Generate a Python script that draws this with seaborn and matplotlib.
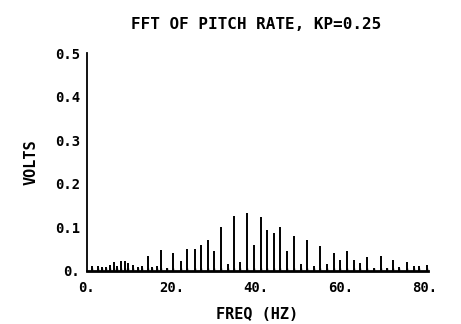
import matplotlib
matplotlib.use("Agg")
import matplotlib.pyplot as plt
import seaborn as sns
import pandas as pd

title = "FFT OF PITCH RATE, KP=0.25"
xlabel = "FREQ (HZ)"
ylabel = "VOLTS"

freq = [1.1, 2.5, 3.6, 4.6, 5.4, 6.4, 7.2, 8.0, 9.1, 9.7, 10.8, 12.0, 13.0, 14.4,
        15.5, 16.7, 17.6, 18.9, 20.4, 22.2, 23.7, 25.5, 26.9, 28.6, 30.2, 31.8,
        33.3, 34.9, 36.3, 37.8, 39.6, 41.3, 42.7, 44.3, 45.8, 47.5, 49.1, 50.7,
        52.2, 53.8, 55.3, 56.9, 58.6, 60.0, 61.6, 63.2, 64.7, 66.3, 68.0, 69.6,
        71.0, 72.5, 74.0, 75.9, 77.4, 78.7, 80.5]
volts = [0.012, 0.012, 0.010, 0.010, 0.013, 0.020, 0.012, 0.022, 0.022, 0.018,
         0.013, 0.010, 0.012, 0.035, 0.010, 0.012, 0.049, 0.008, 0.042, 0.023,
         0.051, 0.051, 0.060, 0.070, 0.047, 0.100, 0.015, 0.125, 0.020, 0.133,
         0.060, 0.123, 0.093, 0.088, 0.100, 0.047, 0.080, 0.015, 0.070, 0.012,
         0.058, 0.015, 0.042, 0.026, 0.047, 0.026, 0.018, 0.032, 0.008, 0.034,
         0.008, 0.026, 0.010, 0.020, 0.012, 0.012, 0.013]

xticks = [0, 20, 40, 60, 80]
xticklabels = ["0.", "20.", "40.", "60.", "80."]
yticks = [0.0, 0.1, 0.2, 0.3, 0.4, 0.5]
yticklabels = ["0.", "0.1", "0.2", "0.3", "0.4", "0.5"]

df = pd.DataFrame({"freq": freq, "volts": volts})

sns.set_style("white")
plt.rcParams["font.family"] = ["DejaVu Sans Mono", "DejaVu Sans"]
plt.rcParams["font.weight"] = "bold"
plt.rcParams["text.color"] = "black"
plt.rcParams["axes.labelcolor"] = "black"
plt.rcParams["xtick.color"] = "black"
plt.rcParams["ytick.color"] = "black"

fig = plt.figure(figsize=(4.61, 3.24), dpi=100)
ax = fig.add_axes([0.1887, 0.1636, 0.7397, 0.6728])

ax.vlines(df["freq"], 0, df["volts"], colors="black", linewidth=1.4)
sns.scatterplot(data=df, x="freq", y=[0.003] * len(df), ax=ax, marker="|",
                color="black", s=12, linewidth=1.0, legend=False)

ax.set_xlim(0, 80.8)
ax.set_ylim(0, 0.5)
ax.set_xticks(xticks)
ax.set_xticklabels(xticklabels)
ax.set_yticks(yticks)
ax.set_yticklabels(yticklabels)
ax.tick_params(axis="y", direction="inout", length=6, width=1.2, labelsize=10, pad=2)
ax.tick_params(axis="x", direction="inout", length=4, width=1.2, labelsize=10, pad=5)
sns.despine(ax=ax)
ax.spines["left"].set_linewidth(1.3)
ax.spines["bottom"].set_linewidth(2.0)
ax.spines["left"].set_color("black")
ax.spines["bottom"].set_color("black")

ax.set_xlabel(xlabel, fontsize=11, fontweight="bold", labelpad=9)
ax.set_ylabel(ylabel, fontsize=11, fontweight="bold", labelpad=12)
fig.text(0.555, 0.925, title, ha="center", va="center", fontsize=11.5, fontweight="bold")

fig.savefig("out.png", dpi=100)
